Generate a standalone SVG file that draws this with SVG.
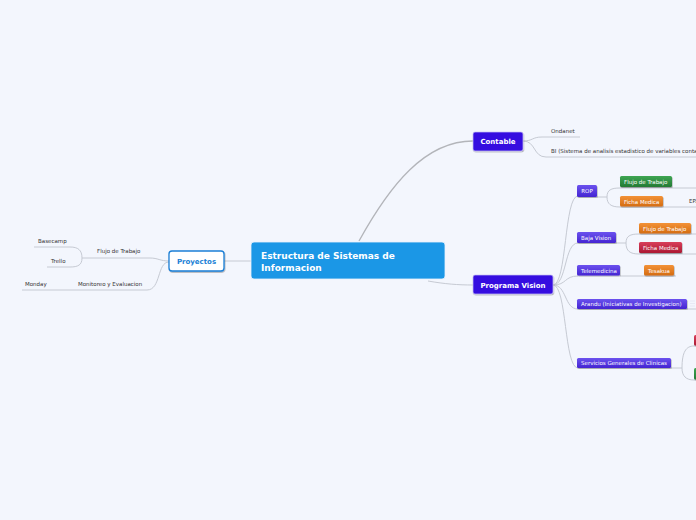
<svg xmlns="http://www.w3.org/2000/svg" width="696" height="520" viewBox="0 0 696 520">
<defs>
<style>
.c{fill:none;stroke:#c6cad3;stroke-width:1}
.main{fill:none;stroke:#b3b5ba;stroke-width:1.3}
.lbl{font-family:"DejaVu Sans",Verdana,sans-serif;font-size:5.5px;fill:#333}
.nt{font-family:"DejaVu Sans",Verdana,sans-serif;font-size:5.5px;fill:#fff}
.bt{font-family:"DejaVu Sans",Verdana,sans-serif;font-weight:bold;fill:#fff}
</style>
<linearGradient id="gp" x1="0" y1="0" x2="0" y2="1"><stop offset="0" stop-color="#6b52ee"/><stop offset="1" stop-color="#4424d2"/></linearGradient>
<linearGradient id="gg" x1="0" y1="0" x2="0" y2="1"><stop offset="0" stop-color="#3ea552"/><stop offset="1" stop-color="#247a35"/></linearGradient>
<linearGradient id="go" x1="0" y1="0" x2="0" y2="1"><stop offset="0" stop-color="#f39236"/><stop offset="1" stop-color="#d46c12"/></linearGradient>
<linearGradient id="gr" x1="0" y1="0" x2="0" y2="1"><stop offset="0" stop-color="#d83e5a"/><stop offset="1" stop-color="#ab1a33"/></linearGradient>
<filter id="sh" x="-20%" y="-30%" width="140%" height="170%"><feDropShadow dx="0.6" dy="1" stdDeviation="0.7" flood-color="#000" flood-opacity="0.3"/></filter>
</defs>
<rect width="696" height="520" fill="#f3f6fd"/>
<g id="connectors">
<path class="main" d="M359,241 C390,185 425,141 473,141"/>
<path class="c" d="M251,261 L224,261"/>
<path class="c" d="M428,281 C445,284 458,285 473,285"/>
<path class="c" d="M169,261 C160,261 158,258 150,258 L82,258"/>
<path class="c" d="M169,262 C157,262 161,290 147,290 L22,290"/>
<path class="c" d="M82,258 C82,250 78,247 70,247 L34,247"/>
<path class="c" d="M82,258 C82,265 78,267 70,267 L47,267"/>
<path class="c" d="M523,141 C533,141 532,137 542,137 L580,137"/>
<path class="c" d="M523,141 C536,141 533,157 546,157 L696,157"/>
<path class="c" d="M553,285 C567,285 564,196 578,196"/>
<path class="c" d="M553,285 C567,285 564,243 578,243"/>
<path class="c" d="M553,285 C567,285 564,276 578,276"/>
<path class="c" d="M553,285 C567,285 564,309 578,309"/>
<path class="c" d="M553,285 C567,285 564,368 578,368"/>
<path class="c" d="M597,197 L607,197 C607,190 611,188 620,188 L696,188"/>
<path class="c" d="M607,197 C607,204 611,207 620,207 L696,207"/>
<path class="c" d="M616,243 L626,243 C626,236 630,234 639,234 L696,234"/>
<path class="c" d="M626,243 C626,251 630,254 639,254 L696,254"/>
<path class="c" d="M620,276 L676,276"/>
<path class="c" d="M687,309 L696,309"/>
<path class="c" d="M671,368 L682,368 C682,352 686,346 694,346 L696,346"/>
<path class="c" d="M682,368 C682,376 686,380 694,380 L696,380"/>
</g>
<g id="central">
<rect x="251" y="242" width="194" height="37" rx="3" fill="#1b97e6" stroke="#e8f3fc" stroke-width="0.8"/>
<text class="bt" font-size="9" x="261" y="259">Estructura de Sistemas de</text>
<text class="bt" font-size="9" x="261" y="271">Informacion</text>
</g>
<g id="proyectos">
<rect x="169" y="251" width="55" height="20" rx="3" fill="#fff" stroke="#1a7fd6" stroke-width="1.3" filter="url(#sh)"/>
<text font-family="DejaVu Sans,Verdana,sans-serif" font-weight="bold" font-size="7" fill="#1a7fd6" x="196.5" y="264" text-anchor="middle">Proyectos</text>
</g>
<g id="p-flujo"><text class="lbl" x="97" y="253">Flujo de Trabajo</text></g>
<g id="p-basecamp"><text class="lbl" x="38" y="243">Basecamp</text></g>
<g id="p-trello"><text class="lbl" x="51" y="263">Trello</text></g>
<g id="p-monitoreo"><text class="lbl" x="78" y="286">Monitoreo y Evaluacion</text></g>
<g id="p-monday"><text class="lbl" x="25" y="286">Monday</text></g>
<g id="contable">
<rect x="473" y="132" width="50" height="19" rx="2" fill="#3511e0" stroke="#c9c0f5" stroke-width="0.7" filter="url(#sh)"/>
<text class="bt" font-size="7" x="498" y="144" text-anchor="middle">Contable</text>
</g>
<g id="c-ondanet"><text class="lbl" x="551" y="133">Ondanet</text></g>
<g id="c-bi"><text class="lbl" x="551" y="153">BI (Sistema de analisis estadistico de variables contables)</text></g>
<g id="programa">
<rect x="473" y="275" width="80" height="19" rx="2" fill="#3511e0" stroke="#c9c0f5" stroke-width="0.7" filter="url(#sh)"/>
<text class="bt" font-size="7" x="513" y="287.5" text-anchor="middle">Programa Vision</text>
</g>
<g id="rop">
<rect x="577" y="185" width="20" height="12" rx="1.5" fill="url(#gp)" filter="url(#sh)"/>
<text class="nt" x="587" y="193" text-anchor="middle">ROP</text>
</g>
<g id="rop-flujo">
<rect x="620" y="176" width="52" height="11" rx="1.5" fill="url(#gg)" filter="url(#sh)"/>
<text class="nt" x="624" y="184">Flujo de Trabajo</text>
</g>
<g id="rop-ficha">
<rect x="620" y="196" width="43" height="10.5" rx="1.5" fill="url(#go)" filter="url(#sh)"/>
<text class="nt" x="624" y="203.5">Ficha Medica</text>
</g>
<g id="rop-epa"><text class="lbl" x="689" y="203">EPA</text></g>
<g id="baja">
<rect x="577" y="232" width="39" height="11" rx="1.5" fill="url(#gp)" filter="url(#sh)"/>
<text class="nt" x="581" y="240">Baja Vision</text>
</g>
<g id="baja-flujo">
<rect x="639" y="223" width="52" height="10.5" rx="1.5" fill="url(#go)" filter="url(#sh)"/>
<text class="nt" x="643" y="230.5">Flujo de Trabajo</text>
</g>
<g id="baja-ficha">
<rect x="639" y="242" width="43" height="11" rx="1.5" fill="url(#gr)" filter="url(#sh)"/>
<text class="nt" x="643" y="250">Ficha Medica</text>
</g>
<g id="telemedicina">
<rect x="577" y="265" width="43" height="10.5" rx="1.5" fill="url(#gp)" filter="url(#sh)"/>
<text class="nt" x="581" y="272.5">Telemedicina</text>
</g>
<g id="tesakua">
<rect x="644" y="265" width="30" height="10.5" rx="1.5" fill="url(#go)" filter="url(#sh)"/>
<text class="nt" x="659" y="272.5" text-anchor="middle">Tesakua</text>
</g>
<g id="arandu">
<rect x="577" y="299" width="110" height="10" rx="1.5" fill="url(#gp)" filter="url(#sh)"/>
<text class="nt" x="581" y="306.3">Arandu (Iniciativas de Investigacion)</text>
<path d="M690,301 h5 M690,303.5 h5 M690,306 h5" stroke="#e4e6f2" stroke-width="0.8"/>
</g>
<g id="servicios">
<rect x="577" y="358" width="94" height="10" rx="1.5" fill="url(#gp)" filter="url(#sh)"/>
<text class="nt" x="581" y="365.3">Servicios Generales de Clinicas</text>
</g>
<g id="serv-red"><rect x="694" y="335" width="12" height="10.5" rx="1.5" fill="url(#gr)" filter="url(#sh)"/></g>
<g id="serv-green"><rect x="694" y="368" width="12" height="11.5" rx="1.5" fill="url(#gg)" filter="url(#sh)"/></g>
</svg>
